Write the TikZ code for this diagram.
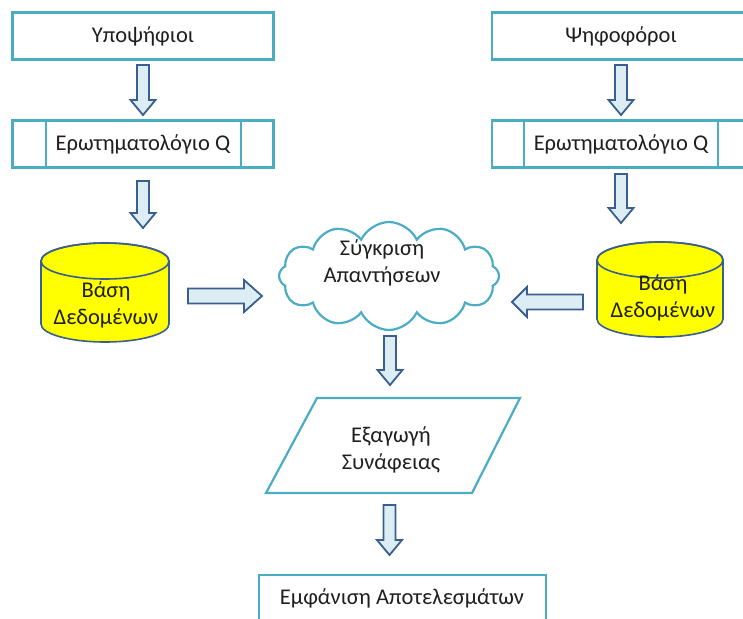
\documentclass[tikz,border=0pt]{standalone}
\usepackage{fontspec}
\setmainfont{Carlito}
\usetikzlibrary{shapes.symbols}
\definecolor{boxline}{HTML}{4BACC6}
\definecolor{arrowfill}{HTML}{DCEEF4}
\definecolor{arrowline}{HTML}{3A5F8E}
\definecolor{dbfill}{HTML}{FFFF00}
\definecolor{dbline}{HTML}{3A5F8E}
\tikzset{
  procbox/.style={draw=boxline, line width=2.6pt, fill=white},
  label/.style={font=\fontsize{22.5}{27}\selectfont, align=center, text=black!88, inner sep=0pt},
  arrowshape/.style={draw=arrowline, fill=arrowfill, line width=1.8pt, line join=miter},
  dbshape/.style={draw=dbline, fill=dbfill, line width=1.6pt},
  % block arrow pointing along +x: length, shaft half width, head half width, head length
  pics/barrow/.style n args={4}{code={
    \path[arrowshape] (0pt,-#2 pt) -- (#1 pt-#4 pt,-#2 pt) -- (#1 pt-#4 pt,-#3 pt) -- (#1 pt,0pt)
      -- (#1 pt-#4 pt,#3 pt) -- (#1 pt-#4 pt,#2 pt) -- (0pt,#2 pt) -- cycle;
  }},
}
\begin{document}
\begin{tikzpicture}[x=1pt,y=-1pt]
\useasboundingbox (0,0) rectangle (743,618);
\clip (0,0) rectangle (743,618);

% top row boxes
\node[procbox, minimum width=261pt, minimum height=47pt] (cand) at (143,36) {};
\node[label] at (cand.center) {Υποψήφιοι};
\node[procbox, minimum width=280pt, minimum height=47pt] (voters) at (632,36) {};
\node[label] at (621,36) {Ψηφοφόροι};

% questionnaires (predefined process)
\node[procbox, minimum width=261pt, minimum height=47pt] (q1) at (143,144) {};
\draw[boxline, line width=2.6pt] (46,121) -- (46,167) (241,121) -- (241,167);
\node[label] at (143,144) {Ερωτηματολόγιο Q};
\node[procbox, minimum width=280pt, minimum height=47pt] (q2) at (632,144) {};
\draw[boxline, line width=2.6pt] (524,121) -- (524,167) (718,121) -- (718,167);
\node[label] at (621,144) {Ερωτηματολόγιο Q};

% databases
\path[dbshape] (41,261) -- (41,324) arc[start angle=180,end angle=360,x radius=64pt,y radius=18pt]
  -- (169,261) arc[start angle=0,end angle=180,x radius=64pt,y radius=18pt] -- cycle;
\draw[dbline, line width=1.6pt] (105,261) ellipse [x radius=64pt, y radius=18pt];
\node[label] (db1) at (106,305) {Βάση\\Δεδομένων};

\path[dbshape] (597,260) -- (597,319) arc[start angle=180,end angle=360,x radius=63pt,y radius=18pt]
  -- (723,260) arc[start angle=0,end angle=180,x radius=63pt,y radius=18pt] -- cycle;
\draw[dbline, line width=1.6pt] (660,260) ellipse [x radius=63pt, y radius=18pt];
\node[label] (db2) at (663,298) {Βάση\\Δεδομένων};

% comparison cloud
\node[cloud, draw=boxline, line width=2.2pt, fill=white, cloud puffs=12, cloud puff arc=130,
  cloud ignores aspect, minimum width=220pt, minimum height=108pt] (cmp) at (389,276) {};
\node[label] at (382,263) {Σύγκριση\\Απαντήσεων};

% relevance extraction
\path[draw=boxline, line width=2.2pt, fill=white] (317,398) -- (520,398) -- (472,493) -- (266,493) -- cycle;
\node[label] (rel) at (391,450) {Εξαγωγή\\Συνάφειας};

% results
\node[procbox, minimum width=287pt, minimum height=50pt] (res) at (402.5,600) {};
\node[label] at (402,598) {Εμφάνιση Αποτελεσμάτων};

% block arrows
\pic[rotate=-90] at (143,65) {barrow={50}{6}{12.5}{15}};
\pic[rotate=-90] at (143,181) {barrow={47}{6}{12.5}{15}};
\pic[rotate=-90] at (621,65) {barrow={50}{6}{12.5}{15}};
\pic[rotate=-90] at (621,174) {barrow={49}{6}{12.5}{15}};
\pic[rotate=-90] at (390,336) {barrow={49}{6}{12.5}{15}};
\pic[rotate=-90] at (389.5,505) {barrow={50}{6}{12.5}{15}};
\pic at (188,296) {barrow={74}{7.5}{16}{18}};
\pic[rotate=180] at (583,302) {barrow={71}{7.5}{15}{15}};
\end{tikzpicture}
\end{document}
